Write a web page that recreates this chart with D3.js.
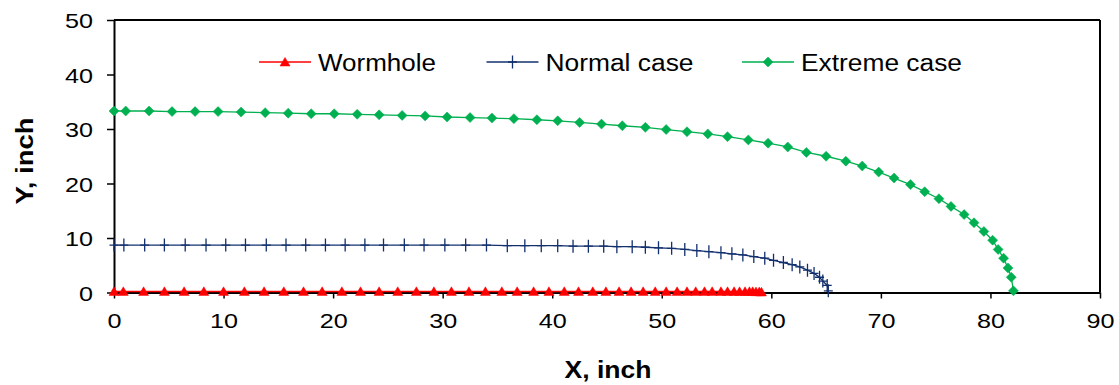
<!DOCTYPE html>
<html>
<head>
<meta charset="utf-8">
<script src="https://cdn.jsdelivr.net/npm/d3@7/dist/d3.min.js"></script>
<style>
  html, body { margin: 0; padding: 0; background: #fff; }
  svg { display: block; font-family: "Liberation Sans", Arial, sans-serif; }
</style>
</head>
<body>
<div id="chart"></div>
<script>
// ---- data ----
const xTicks = [0, 10, 20, 30, 40, 50, 60, 70, 80, 90];
const yTicks = [0, 10, 20, 30, 40, 50];

const seriesNames = ['Wormhole', 'Normal case', 'Extreme case'];

const wormholeX = [0, 0.85, 2.7, 4.6, 6.4, 8.2, 10.0, 11.9, 13.7, 15.5, 17.3, 19.0, 20.8, 22.5, 24.2, 25.9,
  27.6, 29.2, 30.8, 32.4, 33.9, 35.4, 36.8, 38.3, 39.7, 41.1, 42.4, 43.7, 44.9, 46.1, 47.2, 48.3, 49.4,
  50.4, 51.4, 52.3, 53.1, 53.9, 54.6, 55.4, 56.0, 56.6, 57.1, 57.6, 58.0, 58.3, 58.6, 58.9, 59.1];
const wormholeY = [0.2, 0.2, 0.2, 0.2, 0.2, 0.2, 0.2, 0.2, 0.2, 0.2, 0.2, 0.2, 0.2, 0.2, 0.2, 0.2,
  0.2, 0.2, 0.2, 0.2, 0.2, 0.2, 0.2, 0.2, 0.2, 0.2, 0.2, 0.2, 0.2, 0.2, 0.2, 0.2, 0.2,
  0.2, 0.2, 0.2, 0.2, 0.2, 0.2, 0.2, 0.2, 0.2, 0.2, 0.2, 0.2, 0.2, 0.15, 0.15, 0.1];

const normalX = [0, 0.9, 2.8, 4.6, 6.5, 8.4, 10.2, 12.0, 13.9, 15.7, 17.5, 19.3, 21.1, 22.9, 24.6, 26.5,
  28.3, 30.2, 32.1, 34.0, 35.9, 37.5, 39.0, 40.5, 41.9, 43.3, 44.7, 45.9, 47.3, 48.5, 49.7, 50.9, 52.1,
  53.2, 54.3, 55.4, 56.4, 57.4, 58.4, 59.4, 60.2, 61.1, 61.9, 62.6, 63.3, 63.9, 64.4, 64.7, 65.1, 65.2];
const normalY = [8.7, 8.7, 8.7, 8.7, 8.7, 8.7, 8.7, 8.7, 8.7, 8.7, 8.7, 8.7, 8.7, 8.7, 8.7, 8.7,
  8.7, 8.7, 8.7, 8.7, 8.6, 8.6, 8.6, 8.6, 8.5, 8.5, 8.5, 8.4, 8.4, 8.3, 8.2, 8.1, 7.9,
  7.7, 7.5, 7.3, 7.1, 6.9, 6.6, 6.3, 5.9, 5.5, 5.1, 4.7, 4.1, 3.5, 2.8, 2.1, 1.3, 0.3];

const extremeX = [0, 1.07, 3.2, 5.3, 7.4, 9.5, 11.6, 13.8, 15.9, 18.0, 20.1, 22.2, 24.2, 26.3, 28.4, 30.4,
  32.5, 34.5, 36.5, 38.6, 40.5, 42.5, 44.5, 46.4, 48.5, 50.4, 52.3, 54.2, 56.0, 57.9, 59.7, 61.5,
  63.2, 65.0, 66.8, 68.3, 69.8, 71.2, 72.7, 74.0, 75.3, 76.4, 77.6, 78.5, 79.4, 80.2, 80.7, 81.2,
  81.6, 81.9, 82.1];
const extremeY = [33.3, 33.3, 33.3, 33.2, 33.2, 33.2, 33.1, 33.0, 32.9, 32.8, 32.8, 32.7, 32.6, 32.5, 32.4, 32.2,
  32.1, 32.0, 31.9, 31.7, 31.5, 31.2, 30.9, 30.6, 30.3, 29.9, 29.5, 29.1, 28.6, 28.0, 27.4, 26.7,
  25.7, 25.0, 24.1, 23.2, 22.1, 21.0, 19.8, 18.5, 17.2, 15.8, 14.3, 12.8, 11.2, 9.6, 7.9, 6.3,
  4.5, 2.8, 0.3];

// ---- layout ----
const width = 1119, height = 385;
const margin = { top: 20, right: 19, bottom: 92.5, left: 114 };
const innerW = width - margin.left - margin.right;
const innerH = height - margin.top - margin.bottom;

const svg = d3.select('#chart').append('svg')
  .attr('width', width)
  .attr('height', height);

const g = svg.append('g')
  .attr('transform', `translate(${margin.left},${margin.top})`);

const x = d3.scaleLinear().domain([0, 90]).range([0, innerW]);
const y = d3.scaleLinear().domain([0, 50]).range([innerH, 0]);

// custom marker shapes
const plusSymbol = {
  draw(ctx) {
    ctx.moveTo(0, -6.5); ctx.lineTo(0, 6.5);
    ctx.moveTo(-4.5, 0); ctx.lineTo(4.5, 0);
  }
};
const triSymbol = {
  draw(ctx) {
    ctx.moveTo(0, -4.6); ctx.lineTo(5, 4); ctx.lineTo(-5, 4); ctx.closePath();
  }
};
const diamondSymbol = {
  draw(ctx) {
    ctx.moveTo(0, -5); ctx.lineTo(5, 0); ctx.lineTo(0, 5); ctx.lineTo(-5, 0); ctx.closePath();
  }
};

const series = [
  { name: seriesNames[0], xs: wormholeX, ys: wormholeY, color: '#ff0000', symbol: triSymbol, filled: true, lw: 1.5 },
  { name: seriesNames[1], xs: normalX, ys: normalY, color: '#13306e', symbol: plusSymbol, filled: false, lw: 1.3 },
  { name: seriesNames[2], xs: extremeX, ys: extremeY, color: '#00b050', symbol: diamondSymbol, filled: true, lw: 1.3 }
];

// axes
const xAxis = g.append('g')
  .attr('transform', `translate(0,${innerH})`)
  .call(d3.axisBottom(x).tickValues(xTicks).tickSize(6).tickSizeOuter(0).tickPadding(15));
const yAxis = g.append('g')
  .call(d3.axisLeft(y).tickValues(yTicks).tickSize(7).tickSizeOuter(0).tickPadding(14));

[xAxis, yAxis].forEach(ax => {
  ax.select('.domain').attr('stroke', '#000').attr('stroke-width', 2);
  ax.selectAll('.tick line').attr('stroke', '#000').attr('stroke-width', 1.5);
  ax.selectAll('.tick text')
    .attr('fill', '#000')
    .style('font-family', '"Liberation Sans", Arial, sans-serif')
    .style('font-size', '21px')
    .attr('textLength', d => String(d).length * 14)
    .attr('lengthAdjust', 'spacingAndGlyphs');
});
yAxis.selectAll('.tick text').attr('dy', '0.36em');

// top and right border
g.append('line').attr('x1', 0).attr('x2', innerW).attr('y1', 0).attr('y2', 0)
  .attr('stroke', '#000').attr('stroke-width', 2);
g.append('line').attr('x1', innerW).attr('x2', innerW).attr('y1', 0).attr('y2', innerH)
  .attr('stroke', '#000').attr('stroke-width', 2);

// series lines and markers
const line = d3.line().x(d => x(d[0])).y(d => y(d[1]));

series.forEach(s => {
  const pts = s.xs.map((v, i) => [v, s.ys[i]]);
  g.append('path')
    .datum(pts)
    .attr('d', line)
    .attr('fill', 'none')
    .attr('stroke', s.color)
    .attr('stroke-width', s.lw);

  g.selectAll(null)
    .data(pts)
    .enter()
    .append('path')
    .attr('transform', d => `translate(${x(d[0])},${y(d[1])})`)
    .attr('d', d3.symbol().type(s.symbol)())
    .attr('fill', s.filled ? s.color : 'none')
    .attr('stroke', s.color)
    .attr('stroke-width', s.filled ? 0.5 : 1.3);
});

// axis titles
svg.append('text')
  .attr('x', 608)
  .attr('y', 378)
  .attr('text-anchor', 'middle')
  .attr('font-size', 23)
  .attr('font-weight', 'bold')
  .attr('textLength', 87)
  .attr('lengthAdjust', 'spacingAndGlyphs')
  .text('X, inch');

svg.append('text')
  .attr('transform', 'translate(33,161) rotate(-90)')
  .attr('text-anchor', 'middle')
  .attr('font-size', 23)
  .attr('font-weight', 'bold')
  .attr('textLength', 87)
  .attr('lengthAdjust', 'spacingAndGlyphs')
  .text('Y, inch');

// legend
const legendX = [259, 486.5, 742];
const legendTextW = [118, 148, 161];
const legendY = 62;

series.forEach((s, i) => {
  const lg = svg.append('g').attr('transform', `translate(${legendX[i]},${legendY})`);
  lg.append('line')
    .attr('x1', 0).attr('x2', 52).attr('y1', 0).attr('y2', 0)
    .attr('stroke', s.color).attr('stroke-width', 1.5);
  lg.append('path')
    .attr('transform', 'translate(26,0)')
    .attr('d', d3.symbol().type(s.symbol)())
    .attr('fill', s.filled ? s.color : 'none')
    .attr('stroke', s.color)
    .attr('stroke-width', s.filled ? 0.5 : 1.3);
  lg.append('text')
    .attr('x', 59)
    .attr('y', 8.5)
    .attr('font-size', 23)
    .attr('textLength', legendTextW[i])
    .attr('lengthAdjust', 'spacingAndGlyphs')
    .text(s.name);
});
</script>
</body>
</html>
